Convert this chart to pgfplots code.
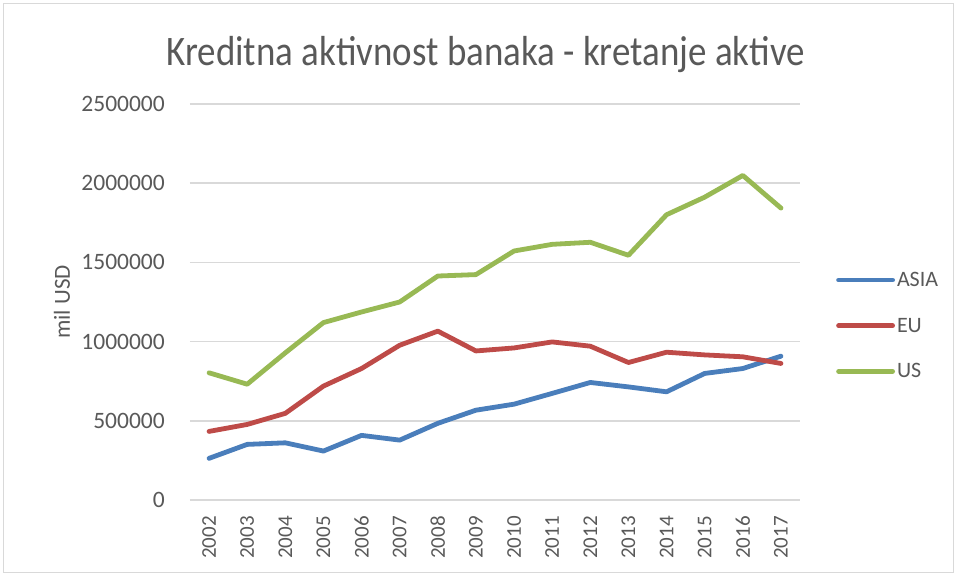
\documentclass[border=0pt]{standalone}
\usepackage{pgfplots}
\pgfplotsset{compat=1.18}
\usepackage{fontspec}
\setmainfont{Carlito}
\definecolor{txt}{HTML}{595959}
\definecolor{gridc}{HTML}{D9D9D9}
\definecolor{asia}{HTML}{4A7EBB}
\definecolor{eu}{HTML}{BE4B48}
\definecolor{us}{HTML}{98B954}
\begin{document}
\begin{tikzpicture}
\useasboundingbox (-190pt,-75pt) rectangle (767pt,500pt);
\draw[gridc, line width=1pt] (-186pt,-72pt) rectangle (763pt,496pt);
\begin{axis}[
  at={(0,0)}, anchor=south west,
  scale only axis, width=610pt, height=396pt,
  xmin=2001.5, xmax=2017.5, ymin=0, ymax=2500000,
  axis line style={draw=none},
  tick style={draw=none},
  xmajorgrids=false,
  ymajorgrids=true, grid style={draw=gridc, line width=1.5pt},
  xtick={2002,...,2017},
  xticklabels={2002,2003,2004,2005,2006,2007,2008,2009,2010,2011,2012,2013,2014,2015,2016,2017},
  ytick={0,500000,1000000,1500000,2000000,2500000},
  yticklabels={0,500000,1000000,1500000,2000000,2500000},
  scaled y ticks=false,
  xticklabel style={font=\fontsize{21}{24}\selectfont, text=txt, rotate=90, anchor=east, inner sep=0pt, xshift=-16pt},
  yticklabel style={font=\fontsize{23.5}{26}\selectfont, text=txt, anchor=east, inner sep=0pt, xshift=-25pt},
  ylabel={mil USD},
  ylabel style={font=\fontsize{23}{26}\selectfont, text=txt},
  every axis y label/.append style={at={(axis description cs:-0.21,0.5)}, anchor=center},
  title={\scalebox{0.88}[1]{Kreditna aktivnost banaka - kretanje aktive}},
  title style={font=\fontsize{42}{46}\selectfont, text=txt, at={(axis description cs:0.4848,1.0808)}, anchor=base},
  legend style={at={(axis description cs:1.059,0.44)}, anchor=west, draw=none, fill=none,
    font=\fontsize{22}{25}\selectfont, text=txt, inner sep=0pt,
    row sep=26pt},
  legend cell align=left,
  legend image code/.code={\draw[#1, line cap=round] (0pt,0pt) -- (54pt,0pt);},
  every axis plot/.append style={line width=4.8pt, line cap=round, line join=round},
]
\addplot[asia] coordinates {
(2002,263000)(2003,351000)(2004,361000)(2005,309000)(2006,408000)(2007,378000)(2008,484000)(2009,567000)
(2010,605000)(2011,673000)(2012,742000)(2013,714000)(2014,683000)(2015,799000)(2016,830000)(2017,908000)};
\addlegendentry{ASIA}
\addplot[eu] coordinates {
(2002,433000)(2003,477000)(2004,547000)(2005,719000)(2006,830000)(2007,977000)(2008,1066000)(2009,941000)
(2010,960000)(2011,998000)(2012,971000)(2013,868000)(2014,933000)(2015,916000)(2016,904000)(2017,862000)};
\addlegendentry{EU}
\addplot[us] coordinates {
(2002,803000)(2003,731000)(2004,929000)(2005,1120000)(2006,1187000)(2007,1250000)(2008,1414000)(2009,1423000)
(2010,1572000)(2011,1614000)(2012,1627000)(2013,1545000)(2014,1801000)(2015,1912000)(2016,2049000)(2017,1843000)};
\addlegendentry{US}
\end{axis}
\end{tikzpicture}
\end{document}
